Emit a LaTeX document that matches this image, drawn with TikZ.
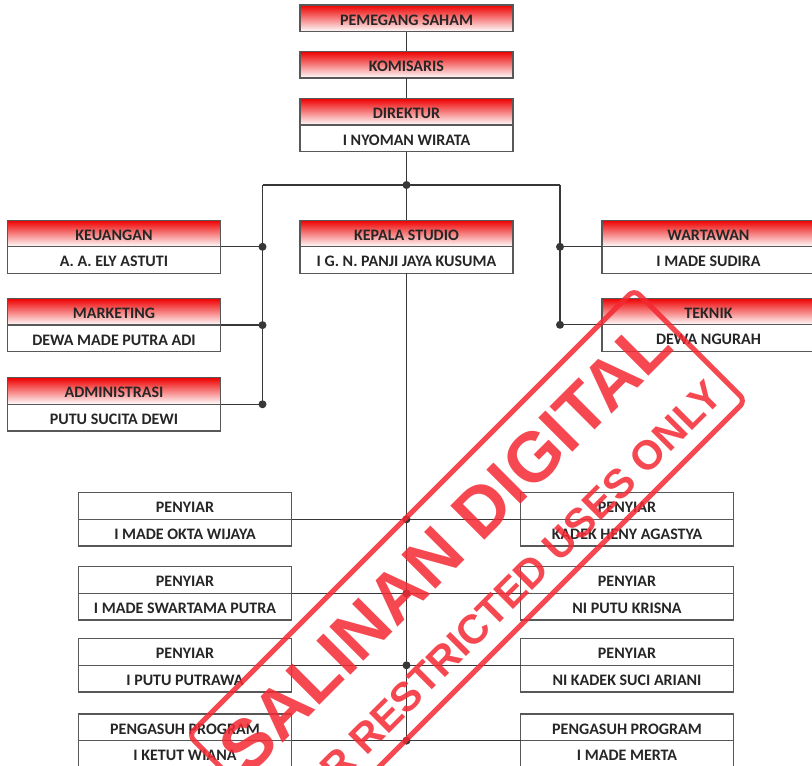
\documentclass[tikz,border=0pt]{standalone}
\usepackage{fontspec}
\setmainfont{Carlito}
\newfontfamily\stampfont{Liberation Sans}
\usetikzlibrary{positioning}
\definecolor{hdrred}{RGB}{238,0,0}
\definecolor{boxgray}{RGB}{88,88,88}
\definecolor{wiregray}{RGB}{55,55,55}
\definecolor{stampred}{RGB}{244,40,50}
\tikzset{
  box/.style={draw=boxgray,line width=1.3pt,minimum width=213pt,minimum height=26.6pt,
    inner sep=0pt,outer sep=0pt,text height=13.6pt,text depth=0pt,
    font=\fontsize{16}{16}\selectfont\bfseries,text=black!85},
  hdr/.style={box,top color=hdrred,middle color=hdrred!55,bottom color=white},
  nm/.style={box,below=0pt of #1},
  wire/.style={wiregray,line width=1.3pt},
}
\begin{document}
\begin{tikzpicture}[x=1pt,y=-1pt]
\useasboundingbox[fill=white] (0,0) rectangle (812,766);
\node[hdr] (psaham) at (406.5,18.3) {PEMEGANG SAHAM};
\node[hdr] (komis) at (406.5,64.7) {KOMISARIS};
\node[hdr] (dir) at (406.5,111.7) {DIREKTUR};
\node[nm=dir] (dirN) {I NYOMAN WIRATA};
\node[hdr] (ks) at (406.5,233.5) {KEPALA STUDIO};
\node[nm=ks] (ksN) {I G. N. PANJI JAYA KUSUMA};
\node[hdr] (keu) at (114,233.5) {KEUANGAN};
\node[nm=keu] (keuN) {A. A. ELY ASTUTI};
\node[hdr] (mkt) at (114,311.8) {MARKETING};
\node[nm=mkt] (mktN) {DEWA MADE PUTRA ADI};
\node[hdr] (adm) at (114,391) {ADMINISTRASI};
\node[nm=adm] (admN) {PUTU SUCITA DEWI};
\node[hdr] (wrt) at (708.5,233.5) {WARTAWAN};
\node[nm=wrt] (wrtN) {I MADE SUDIRA};
\node[hdr] (tek) at (708.5,311.5) {TEKNIK};
\node[nm=tek] (tekN) {DEWA NGURAH};
\foreach \i/\y/\la/\lb/\ra/\rb in {1/506/PENYIAR/I MADE OKTA WIJAYA/PENYIAR/KADEK HENY AGASTYA,
  2/580/PENYIAR/I MADE SWARTAMA PUTRA/PENYIAR/NI PUTU KRISNA,
  3/652/PENYIAR/I PUTU PUTRAWA/PENYIAR/NI KADEK SUCI ARIANI,
  4/727.3/PENGASUH PROGRAM/I KETUT WIANA/PENGASUH PROGRAM/I MADE MERTA}{
  \node[box] (pl\i) at (185,\y) {\la};
  \node[nm=pl\i] (pln\i) {\lb};
  \node[box] (pr\i) at (627,\y) {\ra};
  \node[nm=pr\i] (prn\i) {\rb};
  \draw[wire] (pln\i.north east) -- (prn\i.north west);
  \fill[wiregray] (ksN.south |- pln\i.north) circle (4);
}
\path (406.5,185) coordinate (hub) (262.5,185) coordinate (lbus) (560,185) coordinate (rbus);
\draw[wire] (psaham) -- (komis);
\draw[wire] (komis) -- (dir);
\draw[wire] (dirN) -- (ks);
\draw[wire] (ksN) -- (ksN.south |- pln4.north);
\draw[wire] (lbus) -- (rbus) (lbus) -- (lbus |- admN.north) (rbus) -- (rbus |- tekN.north);
\foreach \b in {keuN,mktN,admN} \draw[wire] (\b.north east) -- (\b.north east -| lbus);
\foreach \b in {wrtN,tekN} \draw[wire] (\b.north west) -- (\b.north west -| rbus);
\foreach \c in {hub,keuN.north east -| lbus,mktN.north east -| lbus,admN.north east -| lbus,
  wrtN.north west -| rbus,tekN.north west -| rbus} \fill[wiregray] (\c) circle (4);
\begin{scope}[shift={(467,568)},rotate=45,transform shape,stampred,opacity=.85]
  \draw[line width=5pt,rounded corners=7pt] (-315,-78.5) rectangle (315,78.5);
  \node[anchor=base,font=\stampfont\bfseries\fontsize{70}{70}\selectfont] (stampa) at (0,-7) {SALINAN DIGITAL};
  \node[anchor=base,font=\stampfont\bfseries\fontsize{41}{41}\selectfont] (stampb) at (0,62) {FOR RESTRICTED USES ONLY};
\end{scope}
\end{tikzpicture}
\end{document}
